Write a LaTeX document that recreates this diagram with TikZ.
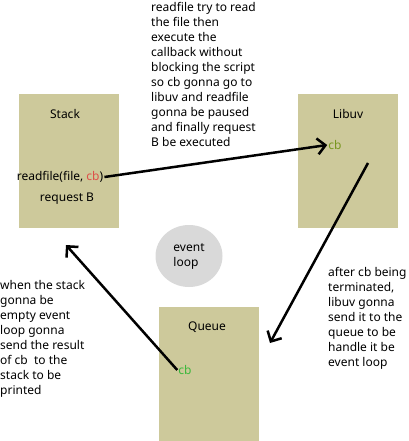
\documentclass[tikz,border=0pt]{standalone}
\usepackage{fontspec}
\setmainfont{Noto Sans}
\usetikzlibrary{arrows.meta,shapes.geometric}
\definecolor{boxfill}{RGB}{205,201,155}
\definecolor{loopgray}{RGB}{217,217,217}
\definecolor{cbred}{RGB}{222,80,74}
\definecolor{cbolive}{RGB}{120,150,30}
\definecolor{cbgreen}{RGB}{60,184,60}
\begin{document}
\begin{tikzpicture}[x=1pt,y=-1pt,font=\fontsize{12}{15}\selectfont,
    panel/.style={fill=boxfill,minimum width=100pt,minimum height=134pt,inner sep=0pt},
    note/.style={anchor=north west,inner sep=0pt,align=left},
    flow/.style={line width=2.5pt,-{Straight Barb[length=8pt,width=16pt]}}]
  \useasboundingbox (0,0) rectangle (408,441);
  % boxes
  \node[panel] (stack) at (69,161) {};
  \node[panel] (libuv) at (348,161) {};
  \node[panel] (queue) at (209,374) {};
  \node[ellipse,fill=loopgray,minimum width=67pt,minimum height=62pt,align=left] (loop) at (189,256) {event\\loop};
  % texts in the boxes
  \node (stacktitle) at (65,114) {Stack};
  \node (libuvtitle) at (348,114) {Libuv};
  \node (queuetitle) at (207,327) {Queue};
  \node[inner sep=1pt] (call) at (60,177) {readfile(file, \textcolor{cbred}{cb})};
  \node (reqb) at (67,199) {request B};
  \node[inner sep=1pt,text=cbolive] (cblib) at (335,145) {cb};
  \node[inner sep=1pt,text=cbgreen] (cbq) at (185,370) {cb};
  % notes
  \node[note] (topnote) at (151,2.5) {readfile try to read\\the file then\\execute the\\callback without\\blocking the script\\so cb gonna go to\\libuv and readfile\\gonna be paused\\and finally request\\B be executed};
  \node[note] (leftnote) at (0,280) {when the stack\\gonna be\\empty event\\loop gonna\\send the result\\of cb\ \ to the\\stack to be\\printed};
  \node[note] (rightnote) at (328,267.5) {after cb being\\terminated,\\libuv gonna\\send it to the\\queue to be\\handle it be\\event loop};
  % arrows
  \coordinate (libout) at (368,163);
  \coordinate (queuein) at (270,343);
  \coordinate (stackin) at (66,245);
  \draw[flow] (call.east) -- (cblib.west);
  \draw[flow] (libout) -- (queuein);
  \draw[flow] (cbq.west) -- (stackin);
\end{tikzpicture}
\end{document}
